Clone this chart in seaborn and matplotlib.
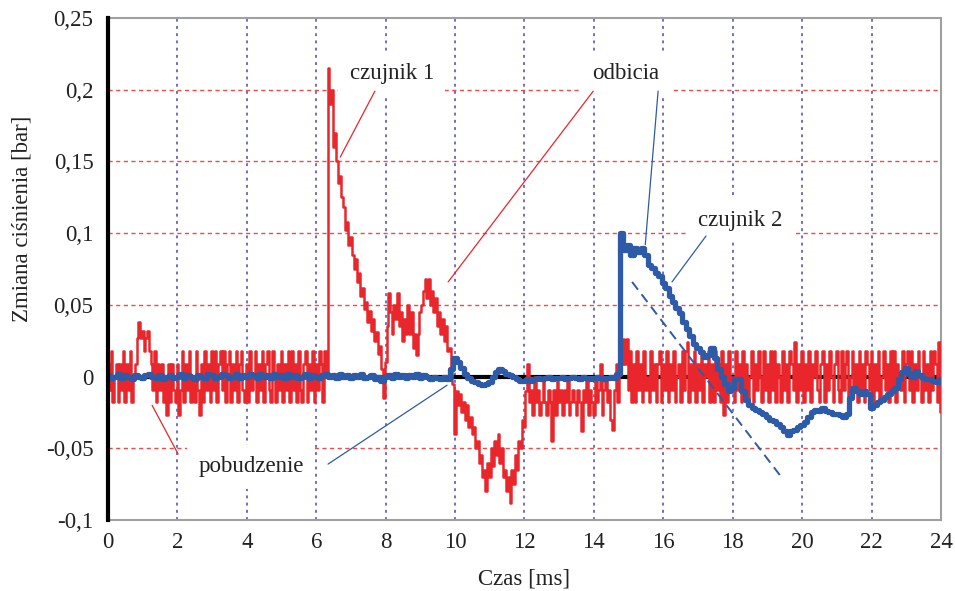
import matplotlib
matplotlib.use("Agg")
import matplotlib.pyplot as plt
import numpy as np
import pandas as pd
import seaborn as sns

sns.set_style("white")
plt.rcParams["font.family"] = ["Liberation Serif", "DejaVu Serif"]

# czujnik 1 (red), sampled every 0.05 ms, in bar
red_pre = [
    0.009, -0.009, 0.018, -0.018, 0.0, 0.009, -0.018, 0.009, -0.009, 0.018,
    -0.018, 0.009, -0.009, 0.018, -0.018, 0.0, 0.009, 0.027, 0.038, 0.027,
    0.032, 0.018, 0.027, 0.032, 0.018, 0.009, -0.009, 0.018, -0.018, 0.009,
    -0.009, 0.009, -0.018, 0.0, -0.027, 0.009, -0.018, 0.009, -0.009, -0.018,
    0.009, -0.027, -0.009, 0.018, -0.018, 0.009, -0.009, 0.018, -0.018, 0.0,
    -0.018, 0.018, -0.009, -0.027, 0.009, -0.018, 0.018, -0.009, 0.009, -0.018,
    0.018, -0.009, 0.018, -0.018, 0.009, 0.018, -0.009, 0.018, -0.018, 0.009,
    0.018, -0.018, 0.009, -0.009, 0.018, -0.018, 0.009, 0.018, -0.009, -0.018,
    0.009, -0.018, 0.018, -0.009, 0.0, 0.018, -0.018, 0.009, -0.009, 0.018,
    -0.018, 0.009, 0.018, -0.009, -0.018, 0.018, 0.0, -0.018, 0.009, -0.009,
    0.018, -0.018, 0.009, -0.009, 0.018, -0.018, 0.018, -0.009, 0.009, -0.018,
    0.018, -0.009, -0.018, 0.009, 0.018, -0.018, 0.009, -0.009, 0.018, -0.018,
    0.009, -0.009, 0.018, 0.009, -0.018, 0.018, 0.0,
]
red_peak = [
    0.215, 0.19, 0.2, 0.16, 0.17, 0.15, 0.135, 0.14, 0.125, 0.118,
    0.102, 0.108, 0.092, 0.097, 0.085, 0.075, 0.082, 0.066, 0.072, 0.056,
    0.062, 0.047, 0.052, 0.038, 0.046, 0.032, 0.04, 0.025, 0.031, 0.016,
    0.021, 0.005, -0.015, 0.01, 0.035, 0.058, 0.045, 0.03, 0.05, 0.04,
    0.058, 0.035, 0.045, 0.025, 0.04, 0.03, 0.05, 0.03, 0.045, 0.02,
    0.03, 0.015, 0.03, 0.045, 0.05, 0.06, 0.068, 0.055, 0.068, 0.05,
    0.06, 0.045, 0.055, 0.035, 0.045, 0.03, 0.04, 0.025, 0.035, 0.018,
    0.02, 0.005, -0.005, -0.04, -0.01, -0.02, -0.012, -0.025, -0.018, -0.03,
    -0.02, -0.035, -0.028, -0.04, -0.035, -0.05, -0.045, -0.06, -0.055, -0.07,
    -0.065, -0.08, -0.06, -0.07, -0.05, -0.062, -0.045, -0.055, -0.04, -0.06,
    -0.05, -0.07, -0.065, -0.08, -0.07, -0.088, -0.065, -0.075, -0.055, -0.065,
    -0.045, -0.05, -0.03, -0.035, -0.01,
]
red_post = [
    0.009, -0.018, -0.009, -0.027, 0.0, -0.018, -0.009, -0.027, -0.018, 0.0,
    -0.018, -0.027, -0.009, -0.018, -0.045, -0.009, -0.027, 0.0, -0.018, -0.009,
    -0.027, -0.009, -0.018, 0.0, -0.027, -0.018, -0.009, -0.018, -0.027, -0.009,
    -0.018, -0.038, -0.009, -0.018, 0.0, -0.027, -0.009, -0.018, -0.027, 0.0,
    -0.018, -0.009, 0.009, -0.027, -0.009, 0.0, -0.018, -0.009, -0.03, -0.037,
    -0.009, 0.009, -0.018, 0.018, 0.009, 0.026, 0.009, 0.026, -0.009, 0.018,
    -0.018, 0.009, -0.018, 0.018, -0.009, 0.009, -0.018, 0.018, -0.009, 0.0,
    -0.018, 0.018, -0.009, 0.009, -0.018, 0.009, 0.018, -0.018, 0.009, -0.009,
    0.018, -0.018, 0.009, -0.009, 0.018, -0.018, 0.0, 0.009, -0.018, 0.018,
    -0.009, 0.018, 0.024, -0.018, 0.009, -0.009, 0.018, -0.018, 0.009, -0.009,
    0.018, -0.018, 0.009, 0.0, 0.018, -0.018, 0.009, -0.018, 0.018, -0.009,
    0.009, -0.018, 0.018, -0.027, 0.009, -0.018, 0.018, -0.009, 0.0, -0.018,
    0.018, -0.009, 0.009, -0.018, 0.018, -0.009, 0.009, -0.018, 0.0, 0.018,
    -0.018, 0.009, -0.009, 0.018, 0.0, -0.018, 0.018, -0.009, 0.009, -0.018,
    0.018, -0.009, 0.018, -0.018, 0.009, 0.0, -0.018, 0.018, -0.009, 0.009,
    -0.018, 0.018, 0.009, -0.009, 0.024, -0.018, 0.009, -0.009, 0.018, -0.018,
    0.009, -0.009, 0.018, -0.018, 0.009, 0.0, 0.018, -0.009, -0.018, 0.009,
    0.018, -0.018, 0.009, -0.009, 0.018, 0.0, -0.018, 0.009, 0.018, -0.009,
    -0.018, 0.018, -0.009, 0.009, 0.018, -0.018, 0.0, 0.018, -0.009, 0.009,
    -0.018, 0.018, -0.009, 0.009, -0.018, 0.018, 0.009, -0.009, 0.018, -0.018,
    0.009, -0.009, 0.018, -0.018, 0.0, 0.018, -0.009, 0.009, -0.018, 0.018,
    -0.009, 0.018, -0.018, 0.009, 0.0, -0.009, 0.018, -0.018, 0.009, 0.018,
    -0.009, 0.018, -0.018, 0.009, -0.009, 0.018, 0.0, -0.018, 0.018, -0.009,
    0.009, -0.018, 0.018, -0.009, 0.018, 0.009, -0.018, 0.024, -0.025,
]

# czujnik 2 (blue), sampled every 0.1 ms, in bar
blue = [
    0.001, -0.001, 0.0, 0.002, -0.001, 0.001, 0.0, -0.002, 0.001, 0.0,
    -0.001, 0.001, 0.002, 0.0, -0.001, 0.001, -0.002, 0.0, 0.001, -0.001,
    0.0, 0.002, -0.001, 0.001, 0.0, -0.002, 0.001, 0.0, -0.001, 0.002,
    0.001, -0.001, 0.0, 0.002, 0.001, -0.001, 0.0, 0.002, -0.001, 0.001,
    0.0, 0.002, 0.001, -0.001, 0.002, 0.0, 0.001, -0.001, 0.002, 0.0,
    0.001, -0.001, 0.002, 0.0, 0.001, -0.001, 0.0, 0.002, -0.001, 0.001,
    0.0, -0.001, 0.001, 0.002, 0.0, 0.001, -0.001, 0.002, 0.0, 0.001,
    -0.001, 0.001, 0.0, 0.002, -0.001, 0.0, 0.001, -0.002, 0.0, -0.003,
    0.0, 0.001, -0.001, 0.002, 0.0, 0.001, -0.001, 0.001, 0.0, 0.002,
    -0.001, 0.001, 0.0, -0.002, 0.0, -0.001, -0.002, 0.0, -0.002, 0.005,
    0.013, 0.01, 0.006, 0.002, -0.001, -0.003, -0.004, -0.005, -0.006, -0.005,
    -0.004, 0.0, 0.003, 0.005, 0.004, 0.002, 0.001, 0.0, -0.002, -0.003,
    -0.003, -0.002, -0.003, -0.002, -0.001, -0.002, -0.001, 0.0, -0.002, -0.001,
    -0.001, 0.0, -0.002, -0.001, 0.0, -0.001, -0.002, 0.0, -0.001, -0.002,
    -0.001, 0.0, -0.001, -0.002, -0.001, 0.0, -0.001, 0.002, 0.1, 0.088,
    0.092, 0.085, 0.09, 0.087, 0.09, 0.085, 0.078, 0.076, 0.072, 0.07,
    0.065, 0.062, 0.056, 0.052, 0.048, 0.044, 0.038, 0.033, 0.028, 0.023,
    0.02, 0.017, 0.014, 0.015, 0.02, 0.013, 0.005, 0.0, -0.005, -0.01,
    -0.008, -0.002, -0.002, -0.01, -0.016, -0.02, -0.022, -0.023, -0.025, -0.026,
    -0.028, -0.03, -0.031, -0.033, -0.035, -0.038, -0.041, -0.038, -0.037, -0.035,
    -0.034, -0.032, -0.028, -0.025, -0.023, -0.024, -0.022, -0.024, -0.025, -0.026,
    -0.026, -0.027, -0.028, -0.026, -0.015, -0.008, -0.01, -0.012, -0.01, -0.012,
    -0.022, -0.02, -0.018, -0.016, -0.014, -0.012, -0.01, -0.008, -0.002, 0.003,
    0.006, 0.002, 0.0, 0.004, 0.001, -0.001, -0.002, -0.002, -0.003, -0.004,
    -0.002,
]

# dashed tangent to the czujnik 2 decay
tangent_x = [15.1, 19.4]
tangent_y = [0.066, -0.070]

x_ticks = [0, 2, 4, 6, 8, 10, 12, 14, 16, 18, 20, 22, 24]
y_ticks = [-0.1, -0.05, 0, 0.05, 0.1, 0.15, 0.2, 0.25]
y_tick_labels = ["-0,1", "-0,05", "0", "0,05", "0,1", "0,15", "0,2", "0,25"]

# label text, position, and connector lines (start, end, colour)
labels = {
    "czujnik 1": (8.18, 0.211, [((7.69, 0.199), (6.69, 0.153), "r")]),
    "odbicia": (14.91, 0.211, [((13.98, 0.199), (9.80, 0.066), "r"),
                               ((15.85, 0.199), (15.48, 0.092), "b")]),
    "czujnik 2": (18.21, 0.109, [((17.23, 0.098), (16.25, 0.066), "b")]),
    "pobudzenie": (4.12, -0.063, [((2.02, -0.054), (1.27, -0.020), "r"),
                                  ((6.34, -0.061), (9.77, -0.006), "b")]),
}

RED = "#E8262B"
BLUE = "#2E5BA8"

red = red_pre + red_peak + red_post
red_df = pd.DataFrame({"t": np.linspace(0, 24, len(red)), "p": red})
blue_df = pd.DataFrame({"t": np.linspace(0, 24, len(blue)), "p": blue})

fig = plt.figure(figsize=(9.55, 5.91), dpi=100)
ax = fig.add_axes([0.1131, 0.1201, 0.8722, 0.8494])

# grid
for x in x_ticks[1:-1]:
    ax.axvline(x, color="#6464BC", lw=1.3, ls=(0, (1.6, 2.4)), zorder=1)
for y in y_ticks[1:-1]:
    if y != 0:
        ax.axhline(y, color="#EE4A4A", lw=1.0, ls=(0, (3, 2.5)), zorder=1)
ax.axhline(0, color="black", lw=3, zorder=2)

sns.lineplot(data=red_df, x="t", y="p", ax=ax, color=RED, lw=1.8,
             estimator=None, sort=False, drawstyle="steps-mid", zorder=3)
sns.lineplot(data=blue_df, x="t", y="p", ax=ax, color=BLUE, lw=3.8,
             estimator=None, sort=False, drawstyle="steps-mid", zorder=4)
ax.plot(tangent_x, tangent_y, color=BLUE, lw=1.4, ls=(0, (5, 3)), zorder=4)

for text, (tx, ty, lines) in labels.items():
    ax.text(tx, ty, text, ha="center", va="center", fontsize=16.5,
            color="#222222", zorder=2.5,
            bbox=dict(boxstyle="square,pad=0.5", fc="white", ec="none"))
    for start, end, c in lines:
        ax.annotate("", xy=end, xytext=start, zorder=5,
                    arrowprops=dict(arrowstyle="-", lw=0.9,
                                    color=RED if c == "r" else BLUE,
                                    shrinkA=0, shrinkB=0))

ax.set_xlim(0, 24)
ax.set_ylim(-0.1, 0.25)
ax.set_xticks(x_ticks)
ax.set_yticks(y_ticks)
ax.set_yticklabels(y_tick_labels)
ax.tick_params(axis="x", length=0, pad=8.5, labelsize=16.5, colors="#222222")
ax.tick_params(axis="y", direction="out", length=4.5, width=2.2, pad=6,
               labelsize=16.5, color="black", labelcolor="#222222")

for side in ["top", "right", "bottom"]:
    ax.spines[side].set_color("#A0A0A0")
    ax.spines[side].set_linewidth(1.5)
ax.spines["left"].set_color("black")
ax.spines["left"].set_linewidth(3)
ax.spines["left"].set_zorder(6)

ax.set_xlabel("Czas [ms]", fontsize=16.5, color="#222222")
ax.set_ylabel("Zmiana ciśnienia [bar]", fontsize=16.5, color="#222222")
ax.xaxis.set_label_coords(0.5, -0.096)
ax.yaxis.set_label_coords(-0.091, 0.60)

fig.savefig("out.png", dpi=100)
